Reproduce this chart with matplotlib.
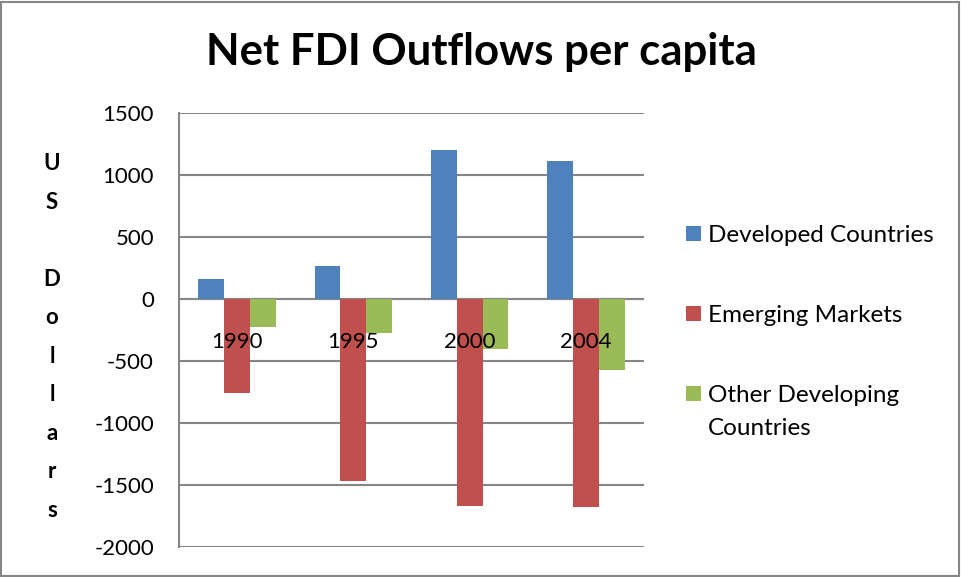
import numpy as np
import matplotlib.pyplot as plt
from matplotlib.patches import Rectangle

plt.rcParams['font.family'] = ['Lato', 'DejaVu Sans']
plt.rcParams['axes.unicode_minus'] = False

years = ["1990", "1995", "2000", "2004"]
developed = [160, 270, 1200, 1115]
emerging = [-760, -1465, -1672, -1675]
other_dev = [-228, -274, -406, -570]

series = [
    ("Developed Countries", developed, "#4F81BD"),
    ("Emerging Markets", emerging, "#C0504D"),
    ("Other Developing\nCountries", other_dev, "#9BBB59"),
]

W, H = 961, 577
fig = plt.figure(figsize=(W / 100, H / 100), dpi=100)
fig.add_artist(Rectangle((1 / W, 1 / H), 1 - 3 / W, 1 - 3 / H, transform=fig.transFigure,
                         fill=False, edgecolor="#868686", linewidth=1.5))

# plot area in pixels: x 179..644, y 113..547
ax = fig.add_axes([179 / W, 1 - 547 / H, (644 - 179) / W, (547 - 113) / H])

x = np.arange(len(years))
bw = 1 / 4.5
for k, (name, vals, col) in enumerate(series):
    ax.bar(x + (k - 1) * bw, vals, bw, color=col, label=name, zorder=3)

ax.set_xlim(-0.5, len(years) - 0.5)
ax.set_ylim(-2000, 1500)
ax.set_yticks(np.arange(-2000, 1501, 500))
ax.set_xticks([])
ax.tick_params(axis="y", length=0, pad=18, labelsize=16, labelcolor="#000000")
ax.grid(axis="y", color="#868686", linewidth=1.5, zorder=0)
ax.axhline(0, color="#868686", linewidth=1.5, zorder=2)
for side in ("top", "right", "bottom"):
    ax.spines[side].set_visible(False)
ax.spines["left"].set_color("#868686")
ax.spines["left"].set_linewidth(1.5)

# category labels sit just below the zero line
for i, yr in enumerate(years):
    ax.annotate(yr, xy=(i, 0), xytext=(0, -31), textcoords="offset points",
                ha="center", va="center", fontsize=16, zorder=5)

fig.text(481 / W, 1 - 52 / H, "Net FDI Outflows per capita", ha="center", va="center",
         fontsize=31.5, fontweight="bold")

fig.text(52 / W, 1 - 337 / H, "U\nS\n\nD\no\nl\nl\na\nr\ns", ha="center", va="center",
         fontsize=16, fontweight="bold", linespacing=2.03)

# legend: swatch beside the first line of each entry
leg_y = [233, 313, 393]
for (name, vals, col), yp in zip(series, leg_y):
    fig.add_artist(Rectangle((686 / W, 1 - (yp + 8) / H), 15 / W, 15 / H,
                             transform=fig.transFigure, facecolor=col, edgecolor="none"))
    fig.text(708 / W, 1 - (yp - 8) / H, name, ha="left", va="top",
             fontsize=17.5, linespacing=1.7)

fig.savefig("out.png", dpi=100)
